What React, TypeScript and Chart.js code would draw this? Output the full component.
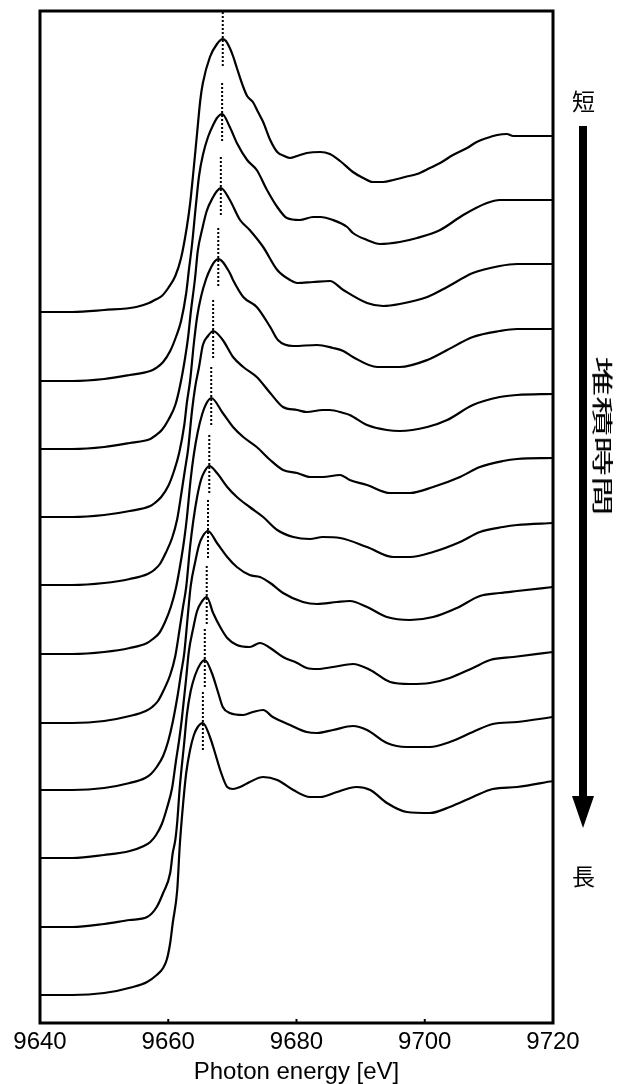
import { useEffect, useRef } from "react";
import { Chart, registerables } from "chart.js";

Chart.register(...registerables);

// Energy axis
const energyMin = 9640;
const energyMax = 9720;
const energyTicks = [9640, 9660, 9680, 9700, 9720];

// Vertical stacking offset of each spectrum (plot units), top = shortest deposition time
const baselineOffsets = [7.11, 6.42, 5.74, 5.06, 4.38, 3.69, 3.0, 2.33, 1.65, 0.96, 0.28];

// XANES spectra: [photon energy (eV), absorption above pre-edge]
const spectrum01: [number, number][] = [
  [9640, 0], [9645, 0], [9650, 0.02], [9655, 0.05], [9657, 0.09], [9657.9, 0.12], [9659, 0.16],
  [9660, 0.24], [9661.1, 0.36], [9662, 0.54], [9662.9, 0.85], [9663.4, 1.08], [9663.9, 1.39],
  [9664.5, 1.79], [9665, 2.12], [9665.4, 2.29], [9666.5, 2.55], [9667.6, 2.68], [9668.5, 2.73],
  [9669, 2.71], [9669.6, 2.64], [9670.1, 2.56], [9670.7, 2.44], [9671.7, 2.25], [9672.3, 2.16],
  [9673.2, 2.1], [9674, 2.0], [9674.8, 1.9], [9675.9, 1.72], [9677, 1.6], [9678.1, 1.56],
  [9679, 1.54], [9680.1, 1.56], [9681.6, 1.59], [9683.7, 1.6], [9685.2, 1.58], [9686.8, 1.51],
  [9688.8, 1.4], [9690.4, 1.34], [9691.9, 1.3], [9693.5, 1.3], [9695.1, 1.32], [9696.9, 1.35],
  [9698.8, 1.38], [9700.8, 1.44], [9702.4, 1.49], [9704.4, 1.57], [9706.6, 1.64], [9708.1, 1.7],
  [9709.7, 1.74], [9711.3, 1.77], [9712.8, 1.78], [9713.8, 1.76], [9715.6, 1.76], [9718, 1.76],
  [9720, 1.76],
];

const spectrum02: [number, number][] = [
  [9640, 0], [9645, 0], [9650, 0.02], [9654, 0.06], [9657.2, 0.1], [9658.1, 0.13], [9659.2, 0.19],
  [9660.3, 0.3], [9661.2, 0.44], [9662, 0.6], [9662.8, 0.88], [9663.2, 1.1], [9663.7, 1.36],
  [9664.3, 1.75], [9664.8, 2.05], [9665.4, 2.26], [9666.2, 2.44], [9667, 2.56], [9667.6, 2.63],
  [9668.4, 2.67], [9669.6, 2.54], [9670.7, 2.38], [9672.3, 2.21], [9673.8, 2.11], [9675.4, 1.91],
  [9677, 1.74], [9678.5, 1.63], [9680.5, 1.61], [9682.6, 1.64], [9683.7, 1.64], [9685.7, 1.61],
  [9687.9, 1.54], [9688.8, 1.48], [9691, 1.41], [9693, 1.37], [9696.1, 1.39], [9698.8, 1.43],
  [9702.4, 1.51], [9706, 1.66], [9709.7, 1.78], [9711.7, 1.81], [9713.8, 1.81], [9720, 1.81],
];

const spectrum03: [number, number][] = [
  [9640, 0], [9645, 0], [9650, 0.02], [9654, 0.06], [9657.2, 0.1], [9657.9, 0.13], [9659, 0.19],
  [9660.1, 0.3], [9661.1, 0.44], [9661.8, 0.62], [9662.6, 0.9], [9663.1, 1.12], [9663.5, 1.36],
  [9664.2, 1.72], [9664.6, 1.98], [9665.3, 2.2], [9666, 2.38], [9667, 2.52], [9667.6, 2.58],
  [9668.2, 2.61], [9669.6, 2.49], [9671.2, 2.29], [9672.7, 2.19], [9674.8, 2.02], [9677, 1.79],
  [9679, 1.69], [9680.1, 1.66], [9682.6, 1.67], [9685.2, 1.68], [9687.3, 1.59], [9691, 1.46],
  [9693.5, 1.43], [9696.1, 1.45], [9700.4, 1.52], [9703.5, 1.62], [9707.5, 1.76], [9711.7, 1.83],
  [9714.4, 1.85], [9720, 1.85],
];

const spectrum04: [number, number][] = [
  [9640, 0], [9645, 0], [9650, 0.02], [9654, 0.06], [9657.2, 0.11], [9657.9, 0.14], [9658.9, 0.2],
  [9660, 0.31], [9660.9, 0.46], [9661.7, 0.64], [9662.5, 0.92], [9662.9, 1.14], [9663.4, 1.36],
  [9664, 1.74], [9664.5, 2.0], [9665.1, 2.2], [9665.9, 2.38], [9666.7, 2.5], [9667.3, 2.56],
  [9667.8, 2.58], [9669.6, 2.44], [9670.1, 2.37], [9671.7, 2.2], [9673.8, 2.1], [9675.9, 1.9],
  [9677.1, 1.77], [9679.5, 1.71], [9683.2, 1.72], [9685.7, 1.69], [9687.3, 1.66], [9688.8, 1.6],
  [9692.6, 1.5], [9696.1, 1.5], [9700.4, 1.57], [9703.5, 1.67], [9707.5, 1.8], [9711.7, 1.86],
  [9714.4, 1.88], [9720, 1.88],
];

const spectrum05: [number, number][] = [
  [9640, 0], [9645, 0], [9650, 0.02], [9654, 0.06], [9656.8, 0.11], [9657.8, 0.15], [9658.7, 0.21],
  [9659.6, 0.32], [9660.6, 0.47], [9661.4, 0.66], [9662.1, 0.94], [9662.6, 1.15], [9663.1, 1.36],
  [9663.7, 1.74], [9664.2, 1.98], [9664.8, 2.18], [9665.4, 2.4], [9666.2, 2.49], [9667, 2.54],
  [9668.5, 2.45], [9670.1, 2.28], [9671.7, 2.18], [9673.8, 2.08], [9675.9, 1.92], [9677.9, 1.78],
  [9680.1, 1.75], [9681.6, 1.73], [9684.1, 1.75], [9685.2, 1.75], [9687.3, 1.72], [9688.3, 1.7],
  [9691, 1.6], [9694.1, 1.55], [9696.1, 1.54], [9700.4, 1.58], [9703.5, 1.65], [9707.5, 1.8],
  [9711.7, 1.88], [9714.4, 1.9], [9720, 1.91],
];

const spectrum06: [number, number][] = [
  [9640, 0], [9645, 0], [9650, 0.02], [9654, 0.06], [9656.7, 0.11], [9657.6, 0.15], [9658.6, 0.21],
  [9659.5, 0.32], [9660.4, 0.47], [9661.2, 0.66], [9662, 0.94], [9662.5, 1.15], [9662.9, 1.36],
  [9663.5, 1.75], [9664, 2.0], [9664.6, 2.22], [9665.3, 2.4], [9665.9, 2.5], [9666.7, 2.56],
  [9668.5, 2.41], [9670.1, 2.27], [9671.7, 2.17], [9673.8, 2.07], [9675.9, 1.94], [9677.9, 1.84],
  [9680.1, 1.81], [9682.1, 1.77], [9684.1, 1.77], [9686.8, 1.79], [9688.3, 1.74], [9691, 1.69],
  [9694.6, 1.61], [9697.7, 1.61], [9701.3, 1.67], [9705.5, 1.77], [9708.6, 1.87], [9712.2, 1.93],
  [9714.4, 1.95], [9720, 1.96],
];

const spectrum07: [number, number][] = [
  [9640, 0], [9645, 0], [9650, 0.02], [9654, 0.07], [9656.5, 0.12], [9657.5, 0.16], [9658.4, 0.22],
  [9659.3, 0.33], [9660.3, 0.48], [9661.1, 0.67], [9661.8, 0.95], [9662.3, 1.16], [9662.8, 1.36],
  [9663.4, 1.76], [9663.9, 2.02], [9664.5, 2.26], [9665.1, 2.43], [9665.7, 2.52], [9666.4, 2.57],
  [9667.6, 2.5], [9669.2, 2.36], [9670.7, 2.26], [9672.7, 2.16], [9674.8, 2.06], [9677, 1.93],
  [9679.5, 1.86], [9682.1, 1.84], [9684.1, 1.86], [9686.8, 1.85], [9691, 1.76], [9695.1, 1.66],
  [9697.7, 1.66], [9701.3, 1.71], [9705.5, 1.81], [9708.6, 1.91], [9712.2, 1.96], [9714.4, 1.98],
  [9720, 2.0],
];

const spectrum08: [number, number][] = [
  [9640, 0], [9645, 0], [9650, 0.02], [9654, 0.07], [9656.4, 0.12], [9657.3, 0.16], [9658.2, 0.23],
  [9659.2, 0.34], [9660, 0.49], [9660.7, 0.68], [9661.5, 0.96], [9662, 1.17], [9662.5, 1.37],
  [9663.1, 1.78], [9663.5, 2.04], [9664.2, 2.28], [9664.8, 2.45], [9665.4, 2.54], [9666.2, 2.59],
  [9667.6, 2.47], [9669.2, 2.33], [9670.7, 2.23], [9672.7, 2.15], [9674.3, 2.13], [9675.9, 2.07],
  [9677.9, 1.97], [9681, 1.88], [9683.2, 1.86], [9686.3, 1.88], [9688.3, 1.89], [9691, 1.83],
  [9694.1, 1.73], [9697.7, 1.7], [9701.3, 1.73], [9705, 1.82], [9708.6, 1.94], [9711.7, 1.97],
  [9714.4, 1.99], [9720, 2.03],
];

const spectrum09: [number, number][] = [
  [9640, 0], [9645, 0], [9650, 0.03], [9654, 0.07], [9656.2, 0.12], [9657.2, 0.16], [9658.1, 0.23],
  [9659, 0.34], [9659.8, 0.5], [9660.6, 0.7], [9661.2, 0.97], [9661.7, 1.18], [9662.1, 1.38],
  [9662.8, 1.8], [9663.2, 2.06], [9663.9, 2.3], [9664.5, 2.47], [9665.3, 2.57], [9666, 2.61],
  [9667, 2.45], [9668.1, 2.31], [9669.2, 2.2], [9670.7, 2.13], [9672.7, 2.11], [9674.3, 2.15],
  [9675.9, 2.1], [9677.9, 2.01], [9680.1, 1.95], [9681.6, 1.9], [9683.2, 1.89], [9685.7, 1.91],
  [9688.8, 1.94], [9691.5, 1.88], [9694.6, 1.76], [9697.7, 1.74], [9700.8, 1.75], [9703.9, 1.8],
  [9707.5, 1.9], [9710.2, 1.98], [9713.8, 2.01], [9720, 2.06],
];

const spectrum10: [number, number][] = [
  [9640, 0], [9645, 0], [9650, 0.03], [9654, 0.07], [9656.7, 0.1], [9658.2, 0.2], [9659.2, 0.34],
  [9660.3, 0.54], [9660.7, 0.74], [9661.1, 0.87], [9661.4, 1.05], [9661.8, 1.4], [9662.5, 1.85],
  [9662.9, 2.12], [9663.5, 2.36], [9664.2, 2.52], [9665, 2.63], [9665.7, 2.67], [9666.8, 2.54],
  [9667.8, 2.34], [9668.5, 2.2], [9669.6, 2.14], [9671.7, 2.12], [9673.2, 2.15], [9674.8, 2.17],
  [9676.3, 2.1], [9679, 2.02], [9681.6, 1.95], [9683.2, 1.94], [9685.7, 1.97], [9688.8, 2.01],
  [9691, 1.97], [9694.1, 1.84], [9697.2, 1.8], [9700.8, 1.8], [9703.9, 1.85], [9707.5, 1.95],
  [9710.6, 2.03], [9714.4, 2.05], [9720, 2.1],
];

const spectrum11: [number, number][] = [
  [9640, 0], [9645, 0], [9650, 0.02], [9654.5, 0.08], [9656.7, 0.13], [9658.2, 0.2], [9659.2, 0.27],
  [9659.8, 0.36], [9660.3, 0.52], [9660.7, 0.72], [9661.4, 1.05], [9661.8, 1.5], [9662.3, 1.9],
  [9662.8, 2.22], [9663.4, 2.45], [9664, 2.6], [9664.6, 2.68], [9665.4, 2.72], [9666.5, 2.58],
  [9667.3, 2.42], [9668.1, 2.25], [9669.2, 2.08], [9670.1, 2.06], [9671.2, 2.08], [9672.7, 2.13],
  [9674.8, 2.18], [9677, 2.15], [9679.5, 2.05], [9682.1, 1.98], [9683.7, 1.98], [9686.3, 2.03],
  [9688.3, 2.07], [9689.4, 2.08], [9691.5, 2.05], [9694.1, 1.92], [9697.2, 1.83], [9700.8, 1.82],
  [9703.9, 1.88], [9707.5, 1.98], [9710.6, 2.06], [9714.4, 2.08], [9720, 2.14],
];

const spectra = [
  spectrum01, spectrum02, spectrum03, spectrum04, spectrum05, spectrum06,
  spectrum07, spectrum08, spectrum09, spectrum10, spectrum11,
];

// Extent of the dotted peak marker above / below each white-line maximum
const markerAbove = 0.31;
const markerBelow = 0.28;

const yMax = 10.12;

const frameAndTicks = {
  id: "frameAndTicks",
  afterDatasetsDraw(chart: any) {
    const { ctx, chartArea } = chart;
    const { left, top, right, bottom } = chartArea;
    const xs = chart.scales.x;
    ctx.save();
    ctx.strokeStyle = "#000";
    ctx.lineWidth = 3;
    ctx.strokeRect(left, top, right - left, bottom - top);
    ctx.lineWidth = 2;
    for (const t of xs.ticks) {
      const px = xs.getPixelForValue(t.value);
      ctx.beginPath();
      ctx.moveTo(px, bottom);
      ctx.lineTo(px, bottom - 4);
      ctx.stroke();
    }
    ctx.restore();
  },
};

export default function App() {
  const canvasRef = useRef<HTMLCanvasElement>(null);

  useEffect(() => {
    const canvas = canvasRef.current;
    if (!canvas) return;

    const datasets: any[] = [];
    spectra.forEach((s, i) => {
      datasets.push({
        data: s.map(([e, v]) => ({ x: e, y: v + baselineOffsets[i] })),
        borderColor: "#000",
        borderWidth: 2.2,
        pointRadius: 0,
        cubicInterpolationMode: "monotone",
        fill: false,
      });
    });
    spectra.forEach((s, i) => {
      let peak = s[0];
      for (const p of s) if (p[1] > peak[1]) peak = p;
      const yPeak = peak[1] + baselineOffsets[i];
      datasets.push({
        data: [
          { x: peak[0], y: yPeak + markerAbove },
          { x: peak[0], y: yPeak - markerBelow },
        ],
        borderColor: "#000",
        borderWidth: 2,
        borderDash: [2, 2],
        pointRadius: 0,
        fill: false,
      });
    });

    const chart = new Chart(canvas, {
      type: "scatter",
      data: { datasets },
      options: {
        animation: false,
        responsive: false,
        showLine: true,
        layout: { padding: { left: 40, right: 72, top: 11, bottom: 0 } },
        plugins: { legend: { display: false }, tooltip: { enabled: false } },
        scales: {
          x: {
            type: "linear",
            min: energyMin,
            max: energyMax,
            afterBuildTicks: (scale: any) => {
              scale.ticks = energyTicks.map((v) => ({ value: v }));
            },
            afterFit: (scale: any) => {
              scale.height = 61;
            },
            grid: { display: false, drawTicks: false },
            border: { display: false },
            ticks: {
              color: "#000",
              padding: 5,
              maxRotation: 0,
              autoSkip: false,
              callback: (v: any) => String(v),
              font: { family: "'Liberation Sans', Arial, sans-serif", size: 24 },
            },
            title: {
              display: true,
              text: "Photon energy [eV]",
              color: "#000",
              padding: { top: 0, bottom: 0 },
              font: { family: "'Liberation Sans', Arial, sans-serif", size: 24, lineHeight: 1 },
            },
          },
          y: { type: "linear", min: 0, max: yMax, display: false },
        },
      },
      plugins: [frameAndTicks],
    });

    return () => chart.destroy();
  }, []);

  const jp = "'Noto Sans CJK JP', sans-serif";

  return (
    <div style={{ position: "absolute", left: 0, top: 0, width: 625, height: 1084, background: "#fff" }}>
      <canvas ref={canvasRef} width={625} height={1084} style={{ display: "block" }} />
      <div style={{ position: "absolute", left: 572, top: 87, fontFamily: jp, fontSize: 23, lineHeight: "26px", color: "#000" }}>短</div>
      <div style={{ position: "absolute", left: 579, top: 126, width: 8, height: 672, background: "#000" }} />
      <div
        style={{
          position: "absolute",
          left: 571.5,
          top: 796,
          width: 0,
          height: 0,
          borderLeft: "11.5px solid transparent",
          borderRight: "11.5px solid transparent",
          borderTop: "32px solid #000",
        }}
      />
      <div
        style={{
          position: "absolute",
          left: 604,
          top: 436,
          transform: "translate(-50%, -50%) rotate(90deg) scaleX(1.9)",
          fontFamily: jp,
          fontSize: 21,
          lineHeight: "24px",
          whiteSpace: "nowrap",
          color: "#000",
        }}
      >
        堆積時間
      </div>
      <div style={{ position: "absolute", left: 572, top: 862, fontFamily: jp, fontSize: 23, lineHeight: "26px", color: "#000" }}>長</div>
    </div>
  );
}
